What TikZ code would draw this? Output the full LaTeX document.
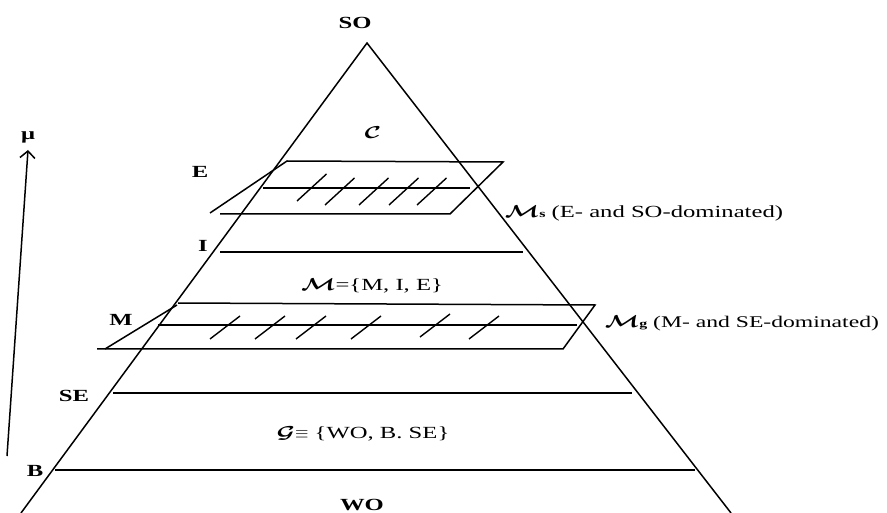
\documentclass[tikz,border=0pt]{standalone}
\usepackage{fontspec}
\setmainfont[FakeStretch=1.45]{Liberation Serif}
\usepackage{amsmath,bm}
\usepackage{graphicx}
\usetikzlibrary{arrows.meta}
\newcommand{\mscr}[1]{\scalebox{1.45}[1]{$\bm{\mathcal{#1}}$}}
\begin{document}
\begin{tikzpicture}[x=1pt,y=-1pt,line width=1.5pt,
  lbl/.style={inner sep=0pt,font=\fontsize{17}{20}\selectfont},
  blbl/.style={inner sep=0pt,font=\fontsize{17}{20}\selectfont\bfseries},
  rule/.style={line width=1.5pt},
  hatch/.style={line width=1.4pt}]
\useasboundingbox (0,0) rectangle (887,513);

% pyramid
\coordinate (apex) at (367,43);
\coordinate (bl) at (21,513);
\coordinate (br) at (731,513);
\draw[rule] (bl) -- (apex) -- (br);

% horizontal level lines
\coordinate (i1) at (220,252); \coordinate (i2) at (523,252);
\coordinate (se1) at (113,393); \coordinate (se2) at (632,393);
\coordinate (b1) at (55,470); \coordinate (b2) at (695,470);
\draw[rule] (i1) -- (i2);
\draw[rule] (se1) -- (se2);
\draw[rule] (b1) -- (b2);

% E plane
\coordinate (ea) at (210,213); \coordinate (eb) at (287,161);
\coordinate (ec) at (503,162); \coordinate (ed) at (450,214);
\coordinate (ee) at (220,214);
\draw[rule] (ea) -- (eb) -- (ec) -- (ed) -- (ee);
\coordinate (em1) at (263,188); \coordinate (em2) at (470,188);
\draw[rule] (em1) -- (em2);
\foreach \x/\y in {297/201, 325/205, 359/205, 389/205, 417/205}
  \draw[hatch] (\x,\y) -- ++(29.5,-27);

% M plane
\coordinate (ma) at (105,349); \coordinate (mb) at (177,305);
\coordinate (mt) at (178,303);
\coordinate (mc) at (595,305); \coordinate (md) at (563,349);
\coordinate (me) at (97,349);
\draw[rule] (ma) -- (mb);
\draw[rule] (mt) -- (mc) -- (md) -- (me);
\coordinate (mm1) at (158,325); \coordinate (mm2) at (577,325);
\draw[rule] (mm1) -- (mm2);
\foreach \x/\y in {210/339, 255/339, 296/339, 351/339, 420/337, 469/339}
  \draw[hatch] (\x,\y) -- ++(30,-23);

% mu arrow
\coordinate (mus) at (7,456);
\coordinate (mue) at (28,150);
\draw[rule,-{Straight Barb[length=7pt,width=15pt,line width=1.5pt]}] (mus) -- (mue);
\node[blbl] (mu) at (28,137) {μ};

% labels
\node[blbl,anchor=base] (so) at (355,29) {SO};
\node[lbl] (c) at (373,133) {\mscr{C}};
\node[blbl,anchor=base] (E) at (200,178) {E};
\node[blbl,anchor=base] (I) at (203,252) {I};
\node[blbl,anchor=base] (M) at (121,326) {M};
\node[blbl,anchor=base] (SE) at (74,401) {SE};
\node[blbl,anchor=base] (B) at (35,476) {B};
\node[blbl,anchor=base] (WO) at (362,510) {WO};

\node[lbl,anchor=base] (mset) at (372,291) {\mscr{M}=\{M, I, E\}};
\node[lbl,anchor=base] (gset) at (363,438) {\mscr{G}$\equiv$ \{WO, B. SE\}};
\node[lbl,anchor=base west] (ms) at (504,218) {\mscr{M}\textbf{\fontsize{11}{12}\selectfont s} (E- and SO-dominated)};
\node[inner sep=0pt,font=\fontsize{16.3}{19}\selectfont,anchor=base west] (mg) at (604,327) {\mscr{M}\textbf{\fontsize{11}{12}\selectfont g} (M- and SE-dominated)};
\end{tikzpicture}
\end{document}
